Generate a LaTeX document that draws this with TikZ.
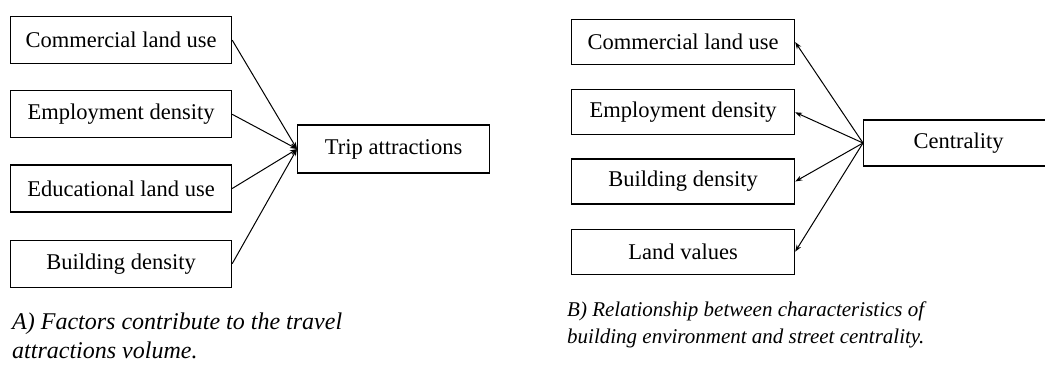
\documentclass[tikz,border=0pt]{standalone}
\usepackage{fontspec}
\setmainfont{Liberation Serif}
\usetikzlibrary{positioning, arrows.meta}

\begin{document}
\begin{tikzpicture}[
    x=1pt, y=-1pt,
    node distance=26pt and 66pt, % default vertical and horizontal node distance
    factorbox/.style={draw, line width=1.2pt, inner sep=0pt, minimum width=221pt, minimum height=47pt, font=\fontsize{22.5}{26}\selectfont},
    captionstyle/.style={anchor=north west, inner sep=0pt, align=left, font=\itshape},
    link/.style={line width=1pt, -{Stealth[length=7pt, width=5pt]}}
]
\useasboundingbox (0,0) rectangle (1045,365);

% Factors of trip attraction
\node (a_comm) [factorbox, anchor=north west] at (10,16) {Commercial land use};
\node (a_empl) [factorbox, below=26pt of a_comm] {Employment density};
\node (a_educ) [factorbox, below=26pt of a_empl] {Educational land use};
\node (a_bldg) [factorbox, below=27pt of a_educ] {Building density};
\node (trip) [factorbox, anchor=west, minimum width=192pt, minimum height=48pt] at (297,149) {Trip attractions};

% Arrows into trip attractions
\foreach \src in {a_comm, a_empl, a_educ, a_bldg}
    \draw[link] (\src.east) -- (trip.west);

\node (cap_a) [captionstyle, font=\fontsize{24}{29}\selectfont\itshape] at (12,313) {A) Factors contribute to the travel\\attractions volume.};

% Centrality and the built environment
\node (b_comm) [factorbox, anchor=north west, minimum width=223pt, minimum height=45pt] at (571,19) {Commercial land use};
\node (b_empl) [factorbox, below=24pt of b_comm, minimum width=223pt, minimum height=45pt] {Employment density};
\node (b_bldg) [factorbox, below=23pt of b_empl, minimum width=223pt, minimum height=45pt] {Building density};
\node (b_land) [factorbox, below=24pt of b_bldg, minimum width=223pt, minimum height=45pt] {Land values};
\node (central) [factorbox, anchor=west, minimum width=190pt, minimum height=46pt] at (863,143) {Centrality};

% Arrows out of centrality
\foreach \dst in {b_comm, b_empl, b_bldg, b_land}
    \draw[link] (central.west) -- (\dst.east);

\node (cap_b) [captionstyle, font=\fontsize{21}{27}\selectfont\itshape] at (567,302) {B) Relationship between characteristics of\\building environment and street centrality.};

\end{tikzpicture}
\end{document}
